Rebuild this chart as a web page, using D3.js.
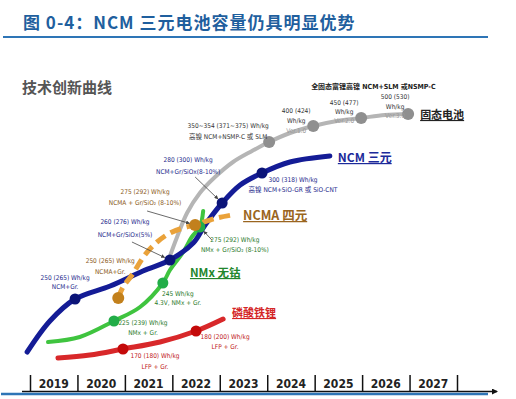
<!DOCTYPE html>
<html>
<head>
<meta charset="utf-8">
<script src="https://cdn.jsdelivr.net/npm/d3@7"></script>
<style>
  body { margin: 0; background: #fff; }
  svg { display: block; }
</style>
</head>
<body>
<svg width="516" height="399"></svg>
<script>
// timeline
const years = [2019, 2020, 2021, 2022, 2023, 2024, 2025, 2026, 2027];
const yearTicks = [2019, 2020, 2021, 2022, 2023, 2024, 2025, 2026, 2027, 2028];

// curves: [year, relative level]
const ncmLine = [[2018.94, 28], [2019.42, 59], [2019.95, 81], [2020.69, 94], [2021.38, 109], [2021.95, 120],
    [2022.44, 137], [2022.69, 155], [2023.05, 177], [2023.43, 195], [2023.89, 207], [2024.48, 218], [2025.32, 224]];
const nmxLine = [[2019.38, 38], [2020.05, 43], [2020.77, 59], [2021.32, 73], [2021.80, 97], [2021.95, 110],
    [2022.23, 128], [2022.41, 143], [2022.58, 153], [2022.65, 169]];
const ncmaLine = [[2020.86, 82], [2020.96, 93], [2021.15, 105], [2021.42, 125], [2021.68, 138], [2021.95, 147],
    [2022.23, 152], [2022.48, 155], [2022.94, 162], [2023.26, 165]];
const lfpLine = [[2019.59, 22], [2020.26, 25], [2020.96, 31], [2021.74, 38], [2022.50, 49], [2023.07, 61]];
const solidLine = [[2021.95, 124], [2022.10, 143], [2022.31, 167], [2022.58, 187], [2022.90, 203], [2023.28, 218],
    [2023.68, 229], [2024.04, 238], [2024.48, 247], [2024.97, 254], [2025.47, 259], [2025.98, 262],
    [2026.48, 265], [2026.97, 266]];

// milestones on each curve
const ncmDots = [[2019.95, 81], [2021.95, 120], [2023.05, 177], [2023.89, 207]];
const nmxDots = [[2020.77, 59], [2021.80, 97], [2022.58, 153]];
const ncmaDots = [[2020.86, 82], [2022.48, 155]];
const lfpDots = [[2020.96, 31], [2022.50, 49]];
const solidDots = [[2024.04, 238], [2024.97, 254], [2025.98, 262], [2026.97, 266]];

// milestone notes
const ncmNotes = [["250 (265) Wh/kg", "NCM+Gr."], ["260 (276) Wh/kg", "NCM+Gr/SiOx(5%)"],
    ["280 (300) Wh/kg", "NCM+Gr/SiOx(8-10%)"], ["300 (318) Wh/kg", "高镍 NCM+SiO-GR 或 SiO-CNT"]];
const nmxNotes = [["225 (239) Wh/kg", "NMx + Gr."], ["245  Wh/kg", "4.3V, NMx + Gr."],
    ["275 (292)  Wh/kg", "NMx + Gr/SiO₂ (8-10%)"]];
const ncmaNotes = [["250 (265) Wh/kg", "NCMA+Gr."], ["275 (292)  Wh/kg", "NCMA + Gr/SiO₂ (8-10%)"]];
const lfpNotes = [["170 (180) Wh/kg", "LFP + Gr."], ["180 (200) Wh/kg", "LFP + Gr."]];
const solidNotes = [["350~354 (371~375) Wh/kg", "高镍 NCM+NSMP-C 或 SLM"], ["400 (424)", "Wh/kg", "Ver.1.0"],
    ["450 (477)", "Wh/kg", "Ver.2.0"], ["500 (530)", "Wh/kg", "Ver.3.0"]];

const seriesNames = ["NCM 三元", "NMx 无钴", "NCMA 四元", "磷酸铁锂", "固态电池"];
const titleText = "图 0-4：NCM 三元电池容量仍具明显优势";
const chartHeading = "技术创新曲线";
const solidHeader = "全固态富锂高镍 NCM+SLM 或NSMP-C";

const svg = d3.select("svg");
const x = d3.scaleLinear().domain([2019, 2028]).range([30, 457]);
const y = d3.scaleLinear().domain([0, 320]).range([380, 60]);
const smallFont = "'Liberation Sans Narrow','DejaVu Sans Condensed','Noto Sans CJK SC',sans-serif";
const cjk = "'Noto Sans CJK SC',sans-serif";

svg.append("defs").append("marker")
    .attr("id", "arr").attr("viewBox", "0 0 6 6").attr("refX", 5).attr("refY", 3)
    .attr("markerWidth", 5).attr("markerHeight", 5).attr("orient", "auto")
    .append("path").attr("d", "M0,0L6,3L0,6z").attr("fill", "#444");
svg.select("defs").append("marker")
    .attr("id", "axarr").attr("viewBox", "0 0 6 6").attr("refX", 5).attr("refY", 3)
    .attr("markerWidth", 4).attr("markerHeight", 4).attr("orient", "auto")
    .append("path").attr("d", "M0,0L6,3L0,6z").attr("fill", "#111");

// title + rule
svg.append("text").attr("x", 23).attr("y", 29).text(titleText)
    .attr("font-family", cjk).attr("font-size", 17).attr("font-weight", "bold")
    .attr("letter-spacing", 1).attr("fill", "#1f5f9e");
svg.append("line").attr("x1", 3).attr("x2", 488).attr("y1", 37).attr("y2", 37)
    .attr("stroke", "#2e75b6").attr("stroke-width", 2);

svg.append("text").attr("x", 22).attr("y", 93).text(chartHeading)
    .attr("font-family", cjk).attr("font-size", 15).attr("font-weight", "bold").attr("fill", "#555");

// axis
const axis = d3.axisBottom(x).tickValues(yearTicks).tickSize(-16).tickFormat("");
const ag = svg.append("g").attr("transform", "translate(0,391)").call(axis);
ag.select(".domain").remove();
ag.selectAll(".tick line").attr("stroke", "#111").attr("stroke-width", 1.5);
svg.append("line").attr("x1", 22).attr("x2", 497).attr("y1", 391.5).attr("y2", 391.5)
    .attr("stroke", "#111").attr("stroke-width", 1.5).attr("marker-end", "url(#axarr)");
svg.append("line").attr("x1", 1).attr("x2", 488).attr("y1", 394).attr("y2", 394)
    .attr("stroke", "#2e75b6").attr("stroke-width", 2.5);
svg.append("g").selectAll("text").data(years).join("text")
    .attr("x", d => x(d + 0.5)).attr("y", 388).attr("text-anchor", "middle")
    .attr("font-family", smallFont).attr("font-size", 12).attr("font-weight", "bold").attr("fill", "#222")
    .text(d => d);

const line = d3.line().x(d => x(d[0])).y(d => y(d[1])).curve(d3.curveCatmullRom.alpha(0.5));

function drawCurve(data, color, width, dash) {
    svg.append("path").datum(data).attr("d", line).attr("fill", "none")
        .attr("stroke", color).attr("stroke-width", width)
        .attr("stroke-linecap", dash ? "butt" : "round")
        .attr("stroke-dasharray", dash || null);
}

drawCurve(solidLine, "#b5b5b5", 4);
drawCurve(lfpLine, "#d8282a", 5);
drawCurve(nmxLine, "#3fc43f", 4);
drawCurve(ncmLine, "#141c96", 5);
drawCurve(ncmaLine, "#eaa23a", 5, "11,6");

function drawDots(data, color, r) {
    svg.append("g").selectAll("circle").data(data).join("circle")
        .attr("cx", d => x(d[0])).attr("cy", d => y(d[1])).attr("r", r).attr("fill", color);
}
drawDots(solidDots, "#8f8f8f", 6);
drawDots(lfpDots, "#c40a0a", 5.5);
drawDots(nmxDots, "#22ad48", 5.5);
drawDots(ncmDots, "#0b1478", 5.5);
drawDots(ncmaDots, "#c2801c", 6);

// note layout: offset of first line from the dot, line gap, optional arrow start
function drawNotes(dots, notes, layout, color) {
    dots.forEach((d, i) => {
        const cx = x(d[0]), cy = y(d[1]);
        const l = layout[i];
        notes[i].forEach((t, j) => {
            svg.append("text").attr("x", cx + l.dx).attr("y", cy + l.dy + j * l.gap)
                .attr("text-anchor", "middle").attr("font-family", smallFont)
                .attr("font-size", l.size || 6.5).attr("fill", (l.colors && l.colors[j]) || color).text(t);
        });
        if (l.arrow) {
            const sx = cx + l.arrow[0], sy = cy + l.arrow[1];
            const len = Math.hypot(cx - sx, cy - sy);
            svg.append("line").attr("x1", sx).attr("y1", sy)
                .attr("x2", cx - (cx - sx) / len * 6).attr("y2", cy - (cy - sy) / len * 6)
                .attr("stroke", "#444").attr("stroke-width", 0.8).attr("marker-end", "url(#arr)");
        }
    });
}

drawNotes(ncmDots, ncmNotes, [
    { dx: -10, dy: -19, gap: 9 },
    { dx: -45, dy: -36, gap: 13, arrow: [-38, -18] },
    { dx: -34, dy: -41, gap: 12, arrow: [-27, -26] },
    { dx: 31, dy: 9, gap: 10 }
], "#1e2a8c");
drawNotes(ncmaDots, ncmaNotes, [
    { dx: -8, dy: -35, gap: 11 },
    { dx: -50, dy: -31, gap: 11, arrow: [-48, -14] }
], "#8a5a1a");
drawNotes(nmxDots, nmxNotes, [
    { dx: 29, dy: 4, gap: 10 },
    { dx: 15, dy: 13, gap: 9 },
    { dx: 35, dy: 15, gap: 10, arrow: [12, 13] }
], "#2a7a2a");
drawNotes(lfpDots, lfpNotes, [
    { dx: 32, dy: 9, gap: 11 },
    { dx: 29, dy: 8, gap: 10 }
], "#c02020");
drawNotes(solidDots, solidNotes, [
    { dx: -41, dy: -14, gap: 11 },
    { dx: -17, dy: -13, gap: 10, colors: [null, null, "#999"] },
    { dx: -17, dy: -13, gap: 9, colors: [null, null, "#999"] },
    { dx: -13, dy: -15, gap: 9.5, colors: [null, null, "#999"] }
], "#333");

svg.append("text").attr("x", x(solidDots[3][0]) - 97).attr("y", 89).text(solidHeader)
    .attr("font-family", smallFont).attr("font-size", 7).attr("font-weight", "bold").attr("fill", "#222");

// series labels, placed after the curve ends
const lastOf = a => a[a.length - 1];
const seriesLabels = [
    { name: seriesNames[0], at: lastOf(ncmLine), dx: 8, dy: 6, color: "#1c2a9a", size: 12 },
    { name: seriesNames[1], at: nmxLine[5], dx: 20, dy: 7, color: "#22862c", size: 11.5 },
    { name: seriesNames[2], at: lastOf(ncmaLine), dx: 11, dy: 5, color: "#9a6520", size: 12.5 },
    { name: seriesNames[3], at: lastOf(lfpLine), dx: 9, dy: -2, color: "#d42626", size: 11 },
    { name: seriesNames[4], at: lastOf(solidLine), dx: 12, dy: 5, color: "#222", size: 11 }
];
svg.append("g").selectAll("text").data(seriesLabels).join("text")
    .attr("x", d => x(d.at[0]) + d.dx).attr("y", d => y(d.at[1]) + d.dy)
    .attr("font-family", cjk).attr("font-weight", "bold").attr("font-size", d => d.size)
    .attr("fill", d => d.color).attr("text-decoration", "underline")
    .text(d => d.name);
</script>
</body>
</html>
